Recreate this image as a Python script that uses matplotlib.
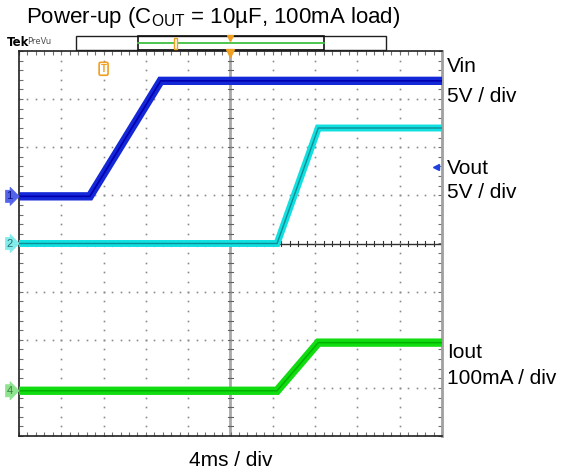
#!/usr/bin/env python3
"""Scope capture: power-up of a regulator (Vin, Vout, Iout)."""

import matplotlib.pyplot as plt
import numpy as np
from matplotlib.patches import Rectangle

plt.rcParams["font.family"] = ["Liberation Sans", "DejaVu Sans"]

# time axis: 4 ms / div, 10 divisions, trigger in the centre
ms_per_div = 4.0
vin_t = [-20.0, -13.3, -6.6, 20.0]
vin_v = [0.0, 0.0, 12.0, 12.0]          # 5 V / div
vout_t = [-20.0, 4.4, 8.3, 20.0]
vout_v = [0.0, 0.0, 12.0, 12.0]         # 5 V / div
iout_t = [-20.0, 4.4, 8.3, 20.0]
iout_ma = [0.0, 0.0, 100.0, 100.0]      # 100 mA / div

# channel ground offsets in divisions
vin_offset = 0.98
vout_offset = 0.0
iout_offset = -3.06


def to_div(t, val, scale, offset):
    return np.array(t) / ms_per_div, np.array(val) / scale + offset


fig = plt.figure(figsize=(5.61, 4.72), dpi=100)
W, H = 561, 472
ax = fig.add_axes([19 / W, (H - 436) / H, 423 / W, 385 / H])
ax.set_xlim(-5, 5)
ax.set_ylim(-4, 4)

# dotted graticule
minor = np.arange(-5, 5.001, 0.2)
minor_y = np.arange(-4, 4.001, 0.2)
for gx in range(-4, 5):
    if gx == 0:
        continue
    ax.plot(np.full_like(minor_y, gx), minor_y, ls="none", marker="s",
            ms=1.2, mec="none", mfc="#8a8a8a")
for gy in range(-3, 4):
    if gy == 0:
        continue
    ax.plot(minor, np.full_like(minor, gy), ls="none", marker="s",
            ms=1.2, mec="none", mfc="#8a8a8a")

# centre lines with small ticks
ax.axvline(0, color="#a8a8a8", lw=2.0, zorder=1)
ax.axhline(0, color="#303030", lw=1.0, zorder=1)
for v in minor_y:
    ax.plot([-0.06, 0.06], [v, v], color="#606060", lw=0.8, zorder=1)
for v in minor:
    ax.plot([v, v], [-0.05, 0.05], color="#303030", lw=0.8, zorder=1)

# traces
x, y = to_div(vin_t, vin_v, 5.0, vin_offset)
ax.plot(x, y, color="#1428d8", lw=6.0, solid_joinstyle="miter", zorder=3)
ax.plot(x, y, color="#0000b0", lw=1.2, zorder=3)
x, y = to_div(vout_t, vout_v, 5.0, vout_offset)
ax.plot(x, y, color="#10e0e0", lw=5.0, solid_joinstyle="miter", zorder=4)
ax.plot(x, y, color="#108c96", lw=1.0, zorder=4)
x, y = to_div(iout_t, iout_ma, 100.0, iout_offset)
ax.plot(x, y, color="#10dc10", lw=6.0, solid_joinstyle="miter", zorder=3)
ax.plot(x, y, color="#00b000", lw=1.0, zorder=3)

# border ticks
ax.set_xticks(minor)
ax.set_yticks(minor_y)
ax.tick_params(direction="in", length=3, width=0.8, color="#707070",
               top=True, right=True, labelbottom=False, labelleft=False)
for side in ["left", "bottom", "top"]:
    ax.spines[side].set_color("#202020")
    ax.spines[side].set_linewidth(1.2)
ax.spines["right"].set_color("#a0a0a0")
ax.spines["right"].set_linewidth(2.0)

# channel ground markers on the left
markers = [("1", vin_offset, "#5464ea", "#0a1080"),
           ("2", vout_offset, "#80ecec", "#306e6e"),
           ("4", iout_offset, "#8ee48e", "#3a803a")]
for label, off, face, txt in markers:
    ax.text(-5.22, off, label, ha="center", va="center", fontsize=8,
            color=txt, clip_on=False,
            bbox=dict(boxstyle="rarrow,pad=0.1", fc=face, ec=face, lw=0.5))

# trigger level arrow on the right and trigger position marker
ax.plot([4.85], [1.6], marker="<", ms=4, color="#2040e0", clip_on=False,
        zorder=5)
ax.text(-3.0, 3.63, "T", ha="center", va="center", fontsize=7,
        color="#f0a020", fontweight="bold",
        bbox=dict(boxstyle="round,pad=0.15", fc="white", ec="#f0a020", lw=1.2))

# record bar at the top
bar_y0, bar_y1 = 4.02, 4.32
ax.add_patch(Rectangle((-3.65, bar_y0), 7.32, bar_y1 - bar_y0, fill=False,
                       ec="#202020", lw=1.0, clip_on=False))
ax.add_patch(Rectangle((-2.19, bar_y0), 4.40, bar_y1 - bar_y0, fill=False,
                       ec="#101010", lw=1.2, clip_on=False))
ax.plot([-2.19, 2.21], [4.17, 4.17], color="#40c040", lw=1.3, clip_on=False)
ax.add_patch(Rectangle((-1.34, 4.04), 0.07, 0.22, fc="white", ec="#f0a020",
                       lw=1.0, clip_on=False, zorder=5))
ax.plot([0], [4.28], marker="v", ms=4, color="#f0a020", clip_on=False)
ax.plot([0], [3.96], marker="v", ms=6, color="#f0a020", clip_on=False,
        zorder=6)
fig.text(7 / W, 1 - 43 / H, "Tek", fontsize=8.5, fontweight="bold",
         va="center", ha="left", family="DejaVu Serif Condensed")
fig.text(27 / W, 1 - 42 / H, "PreVu", fontsize=6, color="#505050",
         va="center", ha="left", family="DejaVu Sans Condensed")

# titles and labels
fig.text(213 / W, 1 - 18 / H,
         r"Power-up (C$_{\mathregular{OUT}}$ = 10µF, 100mA load)",
         fontsize=16, ha="center", va="center")
right_labels = [("Vin", 67), ("5V / div", 96), ("Vout", 169),
                ("5V / div", 193), ("Iout", 352), ("100mA / div", 379)]
for text, py in right_labels:
    fig.text(447 / W, 1 - py / H, text, fontsize=15, ha="left", va="center")
fig.text(231 / W, 1 - 460 / H, "4ms / div", fontsize=15, ha="center",
         va="center")

fig.savefig("out.png", dpi=100)
